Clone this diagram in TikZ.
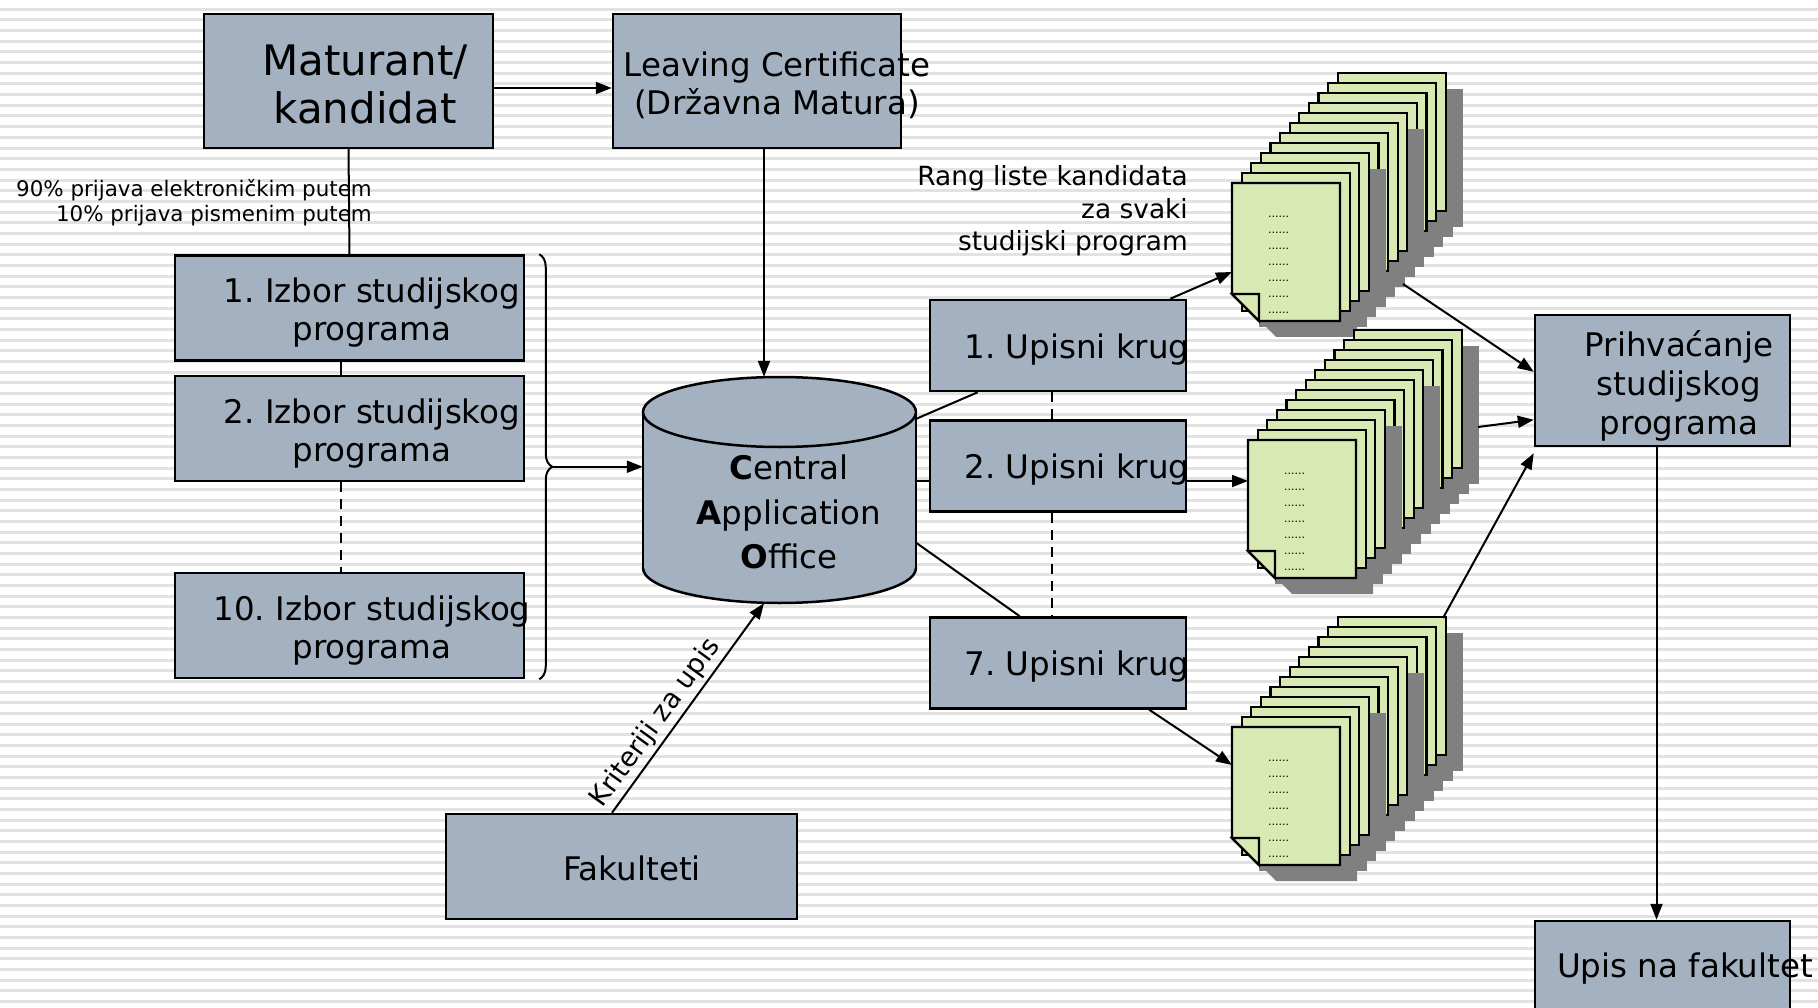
\documentclass[tikz,border=0pt]{standalone}
\usepackage{fontspec}
\setmainfont{DejaVu Sans}
\usetikzlibrary{positioning,calc,arrows.meta,decorations.pathreplacing}
\frenchspacing

\definecolor{boxgray}{RGB}{163,177,193}
\definecolor{docgreen}{RGB}{217,233,179}
\definecolor{stripegray}{RGB}{226,226,226}

\tikzset{
    gbox/.style={draw, line width=2.5pt, fill=boxgray, inner sep=0pt},
    conn/.style={line width=2pt},
    arr/.style={line width=2pt, -{Triangle[length=16pt,width=12pt]}},
    dashconn/.style={line width=2pt, dash pattern=on 10pt off 7pt},
    stripe/.style={stripegray, line width=3pt},
    cylline/.style={line width=2.5pt, fill=boxgray},
    docsheet/.style={draw, line width=2.2pt, fill=docgreen},
    docshadow/.style={fill=black!50},
    docdots/.style={font=\fontsize{11}{11}\selectfont, inner sep=0pt},
    bigtxt/.style={font=\fontsize{42}{48}\selectfont, align=center},
    txt/.style={font=\fontsize{32.5}{38}\selectfont, align=center},
    caotxt/.style={font=\fontsize{32.5}{44.5}\selectfont, align=center},
    rangtxt/.style={font=\fontsize{26.4}{32.5}\selectfont, align=right, inner sep=0pt},
    krittxt/.style={font=\fontsize{27}{32}\selectfont},
    smalltxt/.style={font=\fontsize{21.4}{25}\selectfont, align=right, inner sep=0pt}
}

% stack of ranking lists, #2 = top left corner of the front sheet
\newcommand{\rangstack}[2]{%
    \coordinate (#1) at (#2);
    \foreach \g in {2,1,0}
    {
        \foreach \k in {3,2,1,0}
        {
            \pgfmathtruncatemacro{\sn}{4*\g+\k}
            \ifnum\sn=0
                \fill[docshadow] ($(#1)+(17,16)$) -- ++(108,0) -- ++(0,138)
                    -- ++(-81,0) -- ++(-27,-27) -- cycle;
            \else
                \fill[docshadow] ($(#1)+({9.6*\sn+17},{-10*\sn+16})$) rectangle ++(108,138);
            \fi
        }
        \foreach \k in {3,2,1,0}
        {
            \pgfmathtruncatemacro{\sn}{4*\g+\k}
            \ifnum\sn=0
                \draw[docsheet] (#1) -- ++(108,0) -- ++(0,138) -- ++(-81,0)
                    -- ++(-27,-27) -- cycle;
                \draw[docsheet] ($(#1)+(0,111)$) -- ++(27,0) -- ++(0,27) -- cycle;
            \else
                \draw[docsheet] ($(#1)+({9.6*\sn},{-10*\sn})$) rectangle ++(108,138);
            \fi
        }
    }
    \foreach \r in {0,...,6}
    {
        \node[docdots] (#1-d\r) at ($(#1)+(46.5,{34+16*\r})$) {......};
    }
}

\begin{document}
\begin{tikzpicture}[x=1pt, y=-1pt]
    \useasboundingbox (0,0) rectangle (1818,1008);
    \clip (0,0) rectangle (1818,1008);

    % background
    \fill[white] (0,0) rectangle (1818,1008);
    \foreach \i in {0,...,94}
    {
        \draw[stripe] (0,{9.3+10.67*\i}) -- (1818,{9.3+10.67*\i});
    }

    % candidate and leaving certificate
    \node[gbox, minimum width=289pt, minimum height=134pt] (mat) at (348.5,81) {};
    \node[bigtxt] (mat-t) at (365,84) {Maturant/\\kandidat};
    \node[gbox, minimum width=288pt, minimum height=134pt] (lc) at (757,81) {};
    \node[txt] (lc-t) at (777,85) {Leaving Certificate\\(Državna Matura)};

    % choices of study programmes
    \foreach \n/\yy in {1/308, 2/428.5, 10/625.5}
    {
        \node[gbox, minimum width=349pt, minimum height=105pt] (izb\n) at (349.5,\yy) {};
        \node[txt] (izb\n-t) at (372,{\yy+5}) {\n. Izbor studijskog\\programa};
    }

    % central application office
    \node[inner sep=0pt, minimum width=273pt, minimum height=226pt] (cao) at (779.5,490) {};
    \draw[cylline] (779.5,568) ellipse (136.5pt and 35pt);
    \fill[boxgray] (643,412) rectangle (916,568);
    \draw[cylline] (643,412) -- (643,568) (916,412) -- (916,568);
    \draw[cylline] (779.5,412) ellipse (136.5pt and 35pt);
    \node[caotxt] (cao-t) at (789,512)
        {{\bfseries C}entral\\{\bfseries A}pplication\\{\bfseries O}ffice};

    \node[gbox, minimum width=351pt, minimum height=105pt] (fak) at (621.5,866.5) {};
    \node[txt] (fak-t) at (632,868) {Fakulteti};

    % admission rounds
    \foreach \n/\yy in {1/345.5, 2/466, 7/663}
    {
        \node[gbox, minimum width=256pt, minimum height=91pt] (uk\n) at (1058,\yy) {};
        \node[txt] (uk\n-t) at (1077,{\yy+4}) {\n. Upisni krug};
    }

    \node[gbox, minimum width=255pt, minimum height=131pt] (prih) at (1662.5,380.5) {};
    \node[txt, font=\fontsize{32.5}{39}\selectfont] (prih-t) at (1679,385.5)
        {Prihvaćanje\\studijskog\\programa};
    \node[gbox, minimum width=255pt, minimum height=131pt] (upis) at (1662.5,986.5) {};
    \node[txt] (upis-t) at (1685,969) {Upis na fakultet};

    \rangstack{doc1}{1232,183}
    \rangstack{doc2}{1248,440}
    \rangstack{doc3}{1232,727}

    \node[rangtxt, anchor=east] (rang) at (1188,211)
        {Rang liste kandidata\\za svaki\hspace*{8pt}\\studijski program};

    % connectors
    \draw[arr] ([yshift=-7pt]mat.east) -- ([yshift=-7pt]lc.west);
    \draw[conn] (mat.south) -- (izb1.north);
    \node[smalltxt, anchor=east] (nacin) at (372,203)
        {90\% prijava elektroničkim putem\\10\% prijava pismenim putem};
    \draw[conn] ([xshift=-8.5pt]izb1.south) -- ([xshift=-8.5pt]izb2.north);
    \draw[dashconn] ([xshift=-8.5pt]izb2.south) -- ([xshift=-8.5pt]izb10.north);
    \draw[conn, decorate, decoration={brace, amplitude=13pt}]
        ($(izb1.north east)+(14,0)$) -- ($(izb10.south east)+(14,0)$);
    \coordinate (brtip) at ($(izb1.north east)!0.5!(izb10.south east)+(27,0)$);
    \draw[arr] (brtip) -- (brtip -| cao.west);

    \coordinate (lcout) at ([xshift=7pt]lc.south);
    \draw[arr] (lcout) -- (lcout |- cao.north);
    \draw[arr] ([xshift=-9.5pt]fak.north) -- node[krittxt, sloped, above, pos=0.38] (krit)
        {Kriteriji za upis} ([xshift=-15.5pt]cao.south);

    \coordinate (uk2in) at ($(uk2.west)+(0,15)$);
    \coordinate (uk2out) at ($(uk2.east)+(0,15)$);
    \draw[conn] ($(cao.north east)+(0,42)$) -- ($(uk1.south west)+(49,0)$);
    \draw[conn] (uk2in -| cao.east) -- (uk2in);
    \draw[conn] ($(cao.north east)+(0,166)$) -- ($(uk7.north west)+(91,0)$);
    \draw[dashconn] ([xshift=-6pt]uk1.south) -- ([xshift=-6pt]uk2.north);
    \draw[dashconn] ([xshift=-6pt]uk2.south) -- ([xshift=-6pt]uk7.north);

    \draw[arr] ($(uk1.north east)+(-17,0)$) -- ($(doc1)+(0,89)$);
    \draw[arr] (uk2out) -- ($(doc2)+(0,41)$);
    \draw[arr] ($(uk7.south east)+(-38,0)$) -- ($(doc3)+(0,38)$);

    \draw[arr] ($(doc1)+(171,101)$) -- ($(prih.north west)+(0,58)$);
    \draw[arr] ($(doc2)+(230,-13)$) -- ($(prih.north west)+(0,106)$);
    \draw[arr] ($(doc3)+(211,-109)$) -- ($(prih.south west)+(0,6)$);
    \draw[arr] ([xshift=-6pt]prih.south) -- ([xshift=-6pt]upis.north);

\end{tikzpicture}
\end{document}
